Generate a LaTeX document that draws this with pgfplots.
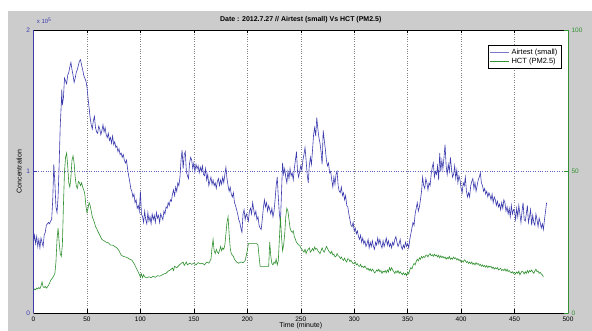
\documentclass[border=0pt]{standalone}
\usepackage{fontspec}
\setmainfont{Liberation Sans}
\usepackage{pgfplots}
\pgfplotsset{compat=1.18}
\definecolor{figgray}{RGB}{204,204,204}
\definecolor{mblue}{RGB}{60,60,175}
\definecolor{mgreen}{RGB}{50,145,50}
\begin{document}
\begin{tikzpicture}[x=1pt,y=1pt]
\useasboundingbox (0,0) rectangle (592,331);
\fill[white] (0,0) rectangle (592,331);
\fill[figgray] (8,0) rectangle (592,320);
\fill[white] (33.5,18) rectangle (568,301);
\begin{axis}[
  at={(33.5pt,18pt)}, anchor=south west, scale only axis,
  width=534.5pt, height=283pt,
  xmin=0, xmax=500, ymin=0, ymax=2,
  clip mode=individual,
  xtick={0,50,...,500}, ytick={0,1,2},
  tick align=inside, major tick length=3.5pt,
  axis x line*=box, axis y line*=left,
  x axis line style={black, line width=0.5pt},
  y axis line style={mblue, line width=0.5pt},
  x tick style={black, line width=0.4pt},
  y tick style={mblue, line width=0.4pt},
  y tick label style={text=mblue},
  tick label style={font=\fontsize{6.5}{7}\selectfont},
  /pgf/number format/assume math mode=true,
  xmajorgrids, ymajorgrids,
  x grid style={black!50, dotted, line width=0.4pt},
  y grid style={mblue!80, dotted, line width=0.4pt},
  xlabel={Time (minute)}, ylabel={Concentration},
  label style={font=\fontsize{7}{8}\selectfont},
  xlabel style={at={(axis description cs:0.5,-0.046)}, anchor=center},
  ylabel style={at={(axis description cs:-0.027,0.5)}, anchor=center},
  every axis title shift=0pt,
  title={Date : 2012.7.27 // Airtest (small) Vs HCT (PM2.5)},
  title style={at={(axis description cs:0.5,1.037)}, anchor=center, font=\fontsize{7}{8}\selectfont\bfseries},
]
\addplot[mblue, line width=0.6pt] coordinates {
(0,0.50)(1,0.55)(2,0.49)(3,0.54)(4,0.47)(5,0.52)(6,0.46)(7,0.53)(8,0.50)(9,0.47)
(10,0.55)(11,0.57)(12,0.62)(13,0.63)(14,0.64)(15,0.63)(16,0.65)(17,0.66)(18,0.80)(19,1.05)
(20,0.92)(21,0.75)(22,0.71)(23,0.82)(24,1.05)(25,1.32)(26,1.48)(26.5,1.58)(27,1.47)(28,1.52)(29,1.66)
(30,1.64)(31,1.62)(32,1.68)(33,1.70)(34,1.74)(35,1.77)(36,1.72)(37,1.68)(38,1.63)(39,1.66)
(40,1.70)(41,1.72)(42,1.75)(43,1.78)(44,1.79)(45,1.75)(46,1.72)(47,1.68)(48,1.66)(49,1.64)
(50,1.60)(51,1.52)(52,1.45)(53,1.38)(54,1.33)(55,1.30)(56,1.36)(57,1.39)(58,1.31)(59,1.28)
(60,1.27)(61,1.32)(62,1.30)(63,1.26)(64,1.29)(65,1.33)(66,1.28)(67,1.31)(68,1.26)(69,1.24)
(70,1.27)(71,1.22)(72,1.24)(73,1.20)(74,1.25)(75,1.19)(76,1.21)(77,1.17)(78,1.18)(79,1.14)
(80,1.16)(81,1.12)(82,1.13)(83,1.10)(84,1.12)(85,1.08)(86,1.06)(87,1.08)(88,1.02)(89,0.97)
(90,0.93)(91,0.88)(92,0.86)(93,0.82)(94,0.84)(95,0.78)(96,0.80)(97,0.74)(98,0.76)(99,0.72)
(100,0.86)(101,0.70)(102,0.68)(103,0.64)(104,0.72)(105,0.66)(106,0.63)(107,0.71)(108,0.65)(109,0.68)
(110,0.63)(111,0.70)(112,0.66)(113,0.69)(114,0.64)(115,0.71)(116,0.67)(117,0.69)(118,0.64)(119,0.70)
(120,0.68)(121,0.66)(122,0.72)(123,0.70)(124,0.75)(125,0.74)(126,0.78)(127,0.76)(128,0.80)(129,0.79)
(130,0.84)(131,0.87)(132,0.83)(133,0.89)(134,0.86)(135,0.92)(136,0.90)(137,0.96)(138,1.08)(139,1.15)
(140,1.02)(141,1.12)(142,1.14)(143,1.00)(144,0.97)(145,0.95)(146,1.06)(147,1.10)(148,1.08)(149,1.02)
(150,1.06)(151,1.00)(152,1.05)(153,1.02)(154,1.04)(155,0.99)(156,1.03)(157,1.00)(158,1.04)(159,0.98)
(160,0.97)(161,1.02)(162,0.94)(163,0.98)(164,0.90)(165,0.93)(166,0.96)(167,0.91)(168,0.94)(169,0.90)
(170,0.92)(171,0.88)(172,0.93)(173,0.95)(174,0.90)(175,0.94)(176,0.91)(177,0.96)(178,0.92)(179,0.98)
(180,1.03)(181,0.95)(182,0.90)(183,0.86)(184,0.89)(185,0.84)(186,0.82)(187,0.85)(188,0.78)(189,0.76)
(190,0.73)(191,0.70)(192,0.66)(193,0.64)(194,0.60)(195,0.57)(196,0.70)(197,0.73)(198,0.66)(199,0.70)
(200,0.68)(201,0.65)(202,0.72)(203,0.74)(204,0.70)(205,0.78)(206,0.73)(207,0.69)(208,0.72)(209,0.66)
(210,0.68)(211,0.62)(212,0.60)(213,0.59)(214,0.66)(215,0.74)(216,0.80)(217,0.75)(218,0.78)(219,0.72)
(220,0.76)(221,0.73)(222,0.70)(223,0.74)(224,0.68)(225,0.72)(226,0.80)(227,0.90)(228,0.96)(229,0.82)
(230,0.70)(231,0.64)(232,0.85)(233,1.06)(234,0.98)(235,1.02)(236,0.96)(237,0.92)(238,1.00)(239,0.95)
(240,1.02)(241,0.97)(242,0.99)(243,0.94)(244,1.02)(245,1.08)(246,1.14)(247,1.00)(248,0.96)(249,1.00)
(250,1.04)(251,1.01)(252,1.08)(253,1.12)(254,1.17)(255,1.08)(256,0.98)(257,0.92)(258,1.04)(259,1.10)
(260,1.05)(261,1.15)(262,1.26)(263,1.31)(264,1.25)(265,1.38)(266,1.30)(267,1.24)(268,1.20)(269,1.14)
(270,1.05)(271,1.29)(272,1.22)(273,1.16)(274,1.08)(275,1.04)(276,1.06)(277,0.99)(278,1.00)(279,0.94)
(280,0.89)(281,0.96)(282,0.91)(283,0.98)(284,1.00)(285,0.90)(286,0.86)(287,0.85)(288,0.89)(289,0.83)
(290,0.85)(291,0.80)(292,0.83)(293,0.76)(294,0.75)(295,0.70)(296,0.66)(297,0.62)(298,0.61)(299,0.64)
(300,0.58)(301,0.60)(302,0.56)(303,0.58)(304,0.54)(305,0.52)(306,0.55)(307,0.50)(308,0.53)(309,0.49)
(310,0.51)(311,0.47)(312,0.49)(313,0.52)(314,0.46)(315,0.50)(316,0.47)(317,0.51)(318,0.47)(319,0.45)
(320,0.50)(321,0.48)(322,0.53)(323,0.49)(324,0.52)(325,0.48)(326,0.46)(327,0.51)(328,0.47)(329,0.50)
(330,0.53)(331,0.48)(332,0.51)(333,0.47)(334,0.49)(335,0.46)(336,0.50)(337,0.48)(338,0.52)(339,0.54)
(340,0.50)(341,0.47)(342,0.49)(343,0.52)(344,0.47)(345,0.45)(346,0.48)(347,0.46)(348,0.50)(349,0.47)
(350,0.49)(351,0.46)(352,0.52)(353,0.56)(354,0.60)(355,0.64)(356,0.62)(357,0.70)(358,0.74)(359,0.78)
(360,0.72)(361,0.75)(362,0.80)(363,0.86)(364,0.96)(365,0.90)(366,0.88)(367,0.95)(368,0.92)(369,0.87)
(370,0.92)(371,0.90)(372,0.98)(373,1.03)(374,1.06)(375,0.96)(376,1.00)(377,0.98)(378,1.04)(379,0.94)
(380,1.13)(381,1.00)(382,1.08)(383,1.02)(384,1.10)(385,1.19)(386,1.04)(387,0.98)(388,1.05)(389,1.00)
(390,1.10)(391,1.02)(392,0.96)(393,0.98)(394,1.04)(395,0.95)(396,1.01)(397,0.92)(398,0.97)(399,0.94)
(400,0.88)(401,0.85)(402,0.92)(403,0.90)(404,0.96)(405,0.86)(406,0.82)(407,0.85)(408,0.82)(409,0.90)
(410,0.93)(411,0.95)(412,0.88)(413,0.92)(414,0.86)(415,0.90)(416,0.94)(417,0.96)(418,0.99)(419,0.92)
(420,0.90)(421,0.86)(422,0.88)(423,0.84)(424,0.86)(425,0.82)(426,0.85)(427,0.83)(428,0.80)(429,0.84)
(430,0.78)(431,0.82)(432,0.80)(433,0.76)(434,0.79)(435,0.75)(436,0.77)(437,0.73)(438,0.78)(439,0.74)
(440,0.80)(441,0.78)(442,0.72)(443,0.75)(444,0.70)(445,0.74)(446,0.68)(447,0.76)(448,0.70)(449,0.73)
(450,0.72)(451,0.66)(452,0.74)(453,0.68)(454,0.76)(455,0.70)(456,0.64)(457,0.72)(458,0.78)(459,0.66)
(460,0.65)(461,0.70)(462,0.76)(463,0.64)(464,0.68)(465,0.73)(466,0.62)(467,0.69)(468,0.64)(469,0.62)
(470,0.70)(471,0.66)(472,0.61)(473,0.67)(474,0.64)(475,0.60)(476,0.63)(477,0.59)(478,0.66)(479,0.72)
(480,0.78)
};
\node[anchor=west, text=mblue, font=\fontsize{6}{7}\selectfont, inner sep=0pt] at (axis description cs:0.006,1.032) {x 10\textsuperscript{5}};
\end{axis}
\begin{axis}[
  at={(33.5pt,18pt)}, anchor=south west, scale only axis,
  width=534.5pt, height=283pt,
  xmin=0, xmax=500, ymin=0, ymax=100,
  ytick={0,50,100},
  tick align=inside, major tick length=3.5pt,
  axis x line=none, axis y line*=right,
  y axis line style={mgreen, line width=0.5pt},
  y tick style={mgreen, line width=0.4pt},
  y tick label style={text=mgreen},
  tick label style={font=\fontsize{6.5}{7}\selectfont},
  /pgf/number format/assume math mode=true,
  legend cell align=left,
  legend style={at={(rel axis cs:0.987,0.947)}, anchor=north east,
    font=\fontsize{7.5}{8.5}\selectfont, draw=black, line width=0.4pt,
    fill=white, inner sep=1.5pt, row sep=-1.5pt},
  legend image code/.code={\draw[#1] (0pt,0pt) -- (19pt,0pt);},
]
\addlegendimage{mblue!70, line width=0.6pt}
\addlegendentry{Airtest (small)}
\addplot[mgreen, line width=0.6pt] coordinates {
(0,8.0)(1,8.5)(2,8.2)(3,8.8)(4,8.5)(5,9.0)(6,8.6)(7,9.5)(8,11.0)(9,9.2)
(10,9.0)(11,9.4)(12,8.8)(13,9.2)(14,9.8)(15,10.5)(16,11.5)(17,12.0)(18,12.5)(19,13.2)
(20,14.0)(21,18.0)(22,26.0)(23,30.0)(24,25.0)(25,21.0)(26,20.0)(27,24.0)(28,38.0)(29,50.0)
(30,55.0)(31,56.5)(32,52.0)(33,46.0)(34,44.5)(35,48.0)(36,54.0)(37,55.5)(38,53.0)(39,48.0)
(40,45.0)(41,44.0)(42,46.5)(43,46.0)(44,45.0)(45,46.0)(46,44.5)(47,43.5)(48,42.0)(49,38.0)
(50,35.5)(51,37.0)(52,39.0)(53,38.0)(54,36.0)(55,34.0)(56,33.0)(57,32.0)(58,30.5)(59,30.0)
(60,29.0)(62,27.5)(64,26.0)(66,25.5)(68,25.0)(70,24.8)(72,24.0)(74,24.0)(76,23.5)(78,23.0)
(80,22.0)(82,20.5)(84,20.0)(86,19.8)(88,19.5)(90,19.0)(92,18.7)(94,17.5)(96,16.0)(98,14.5)
(100,12.7)(101,13.8)(102,12.5)(103,13.5)(104,12.8)(106,12.4)(108,12.8)(110,12.5)(112,13.0)(114,12.6)
(116,13.2)(118,13.0)(120,13.4)(122,13.8)(124,14.0)(126,14.8)(128,15.2)(130,15.9)(131,15.0)(132,16.5)
(134,16.0)(136,16.8)(138,17.5)(140,18.0)(141,16.8)(142,17.4)(143,18.0)(144,17.0)(146,17.6)(148,17.2)
(150,17.6)(152,17.0)(154,17.8)(156,17.4)(158,17.6)(160,17.0)(162,18.0)(164,17.6)(166,19.0)(167,23.0)
(168,26.0)(169,22.0)(170,21.0)(171,22.5)(172,21.5)(173,21.0)(174,22.0)(175,23.5)(176,22.0)(177,23.0)
(178,22.5)(179,24.0)(180,28.0)(181,32.0)(182,34.0)(183,28.0)(184,23.0)(185,21.0)(186,20.5)(187,20.0)
(188,19.0)(189,18.5)(190,18.0)(192,17.6)(194,18.0)(196,17.8)(198,18.5)(200,22.0)(201,24.5)(205,24.5)
(209,24.5)(210,24.0)(211,20.0)(212,16.5)(220,16.5)(221,25.0)(222,20.0)(223,17.5)(224,17.0)(225,18.0)
(226,17.5)(227,19.0)(228,17.0)(229,18.5)(230,26.0)(231,34.0)(232,27.0)(233,22.0)(234,24.0)(235,28.0)
(236,34.0)(237,37.0)(238,36.0)(239,33.0)(240,30.0)(241,29.0)(242,28.5)(243,29.0)(244,27.0)(245,26.0)
(246,25.0)(247,24.5)(248,24.0)(249,24.0)(250,23.0)(251,22.5)(252,22.0)(253,21.5)(254,22.5)(255,21.0)
(256,22.0)(257,22.5)(258,23.0)(259,21.5)(260,22.0)(261,22.8)(262,22.0)(263,23.3)(264,22.5)(265,22.8)
(266,22.0)(267,21.5)(268,21.0)(269,22.0)(270,23.0)(271,22.0)(272,21.5)(273,22.5)(274,23.5)(275,22.8)
(276,22.0)(277,21.5)(278,21.0)(279,21.8)(280,20.5)(281,20.8)(282,19.8)(283,20.0)(284,21.0)(285,20.2)
(286,20.0)(287,19.2)(288,19.8)(289,19.0)(290,18.6)(291,19.4)(292,18.5)(293,18.0)(294,19.2)(295,19.0)
(296,18.2)(297,18.6)(298,18.0)(299,17.4)(300,17.5)(301,18.0)(302,17.0)(303,17.4)(304,16.6)(305,16.5)
(306,17.2)(307,16.2)(308,16.5)(309,16.0)(310,16.6)(311,16.0)(312,15.4)(313,15.8)(314,15.0)(315,15.6)
(316,14.8)(317,15.5)(318,15.0)(319,14.2)(320,14.5)(321,15.2)(322,14.8)(323,15.5)(324,14.6)(325,15.0)
(326,14.0)(327,14.8)(328,14.4)(329,15.0)(330,14.2)(331,15.2)(332,14.5)(333,16.0)(334,15.0)(335,16.0)
(336,15.2)(337,14.6)(338,14.0)(339,14.8)(340,14.2)(341,15.0)(342,14.0)(343,14.6)(344,14.0)(345,13.6)
(346,14.2)(347,13.5)(348,14.0)(349,13.2)(350,14.5)(351,13.8)(352,15.2)(353,16.0)(354,15.6)(355,16.8)
(356,17.5)(357,17.0)(358,18.2)(359,19.0)(360,18.4)(361,19.5)(362,19.0)(363,20.0)(364,19.4)(365,20.0)
(366,19.6)(367,20.4)(368,20.5)(369,19.8)(370,20.6)(371,21.0)(372,20.2)(373,20.6)(374,20.0)(375,20.8)
(376,20.2)(377,20.5)(378,19.8)(379,20.4)(380,19.5)(381,20.2)(382,19.6)(383,20.0)(384,19.4)(385,19.8)
(386,19.0)(387,19.6)(388,19.2)(389,20.0)(390,19.0)(391,19.4)(392,19.0)(393,19.8)(394,19.2)(395,19.5)
(396,18.8)(397,19.2)(398,18.5)(399,18.9)(400,18.0)(401,18.4)(402,18.0)(403,18.8)(404,18.5)(405,17.8)
(406,18.2)(407,17.5)(408,18.0)(409,17.4)(410,18.0)(411,17.2)(412,17.6)(413,17.0)(414,17.8)(415,17.2)
(416,17.5)(417,16.8)(418,17.2)(419,16.5)(420,17.0)(421,16.4)(422,16.8)(423,16.2)(424,16.8)(425,16.0)
(426,16.6)(427,16.2)(428,16.5)(429,15.8)(430,16.2)(431,15.5)(432,16.0)(433,15.6)(434,16.0)(435,15.2)
(436,15.5)(437,15.8)(438,15.0)(439,15.4)(440,15.0)(441,15.6)(442,14.8)(443,15.5)(444,14.6)(445,15.0)
(446,14.5)(447,14.2)(448,14.6)(449,14.0)(450,14.4)(451,13.8)(452,14.5)(453,14.0)(454,14.8)(455,13.5)
(456,14.2)(457,14.8)(458,14.5)(459,13.8)(460,14.6)(461,14.0)(462,15.0)(463,14.2)(464,15.0)(465,14.6)
(466,15.2)(467,14.5)(468,14.0)(469,14.8)(470,15.5)(471,14.6)(472,14.8)(473,14.0)(474,14.4)(475,13.8)
(476,13.5)(477,12.7)
};
\addlegendentry{HCT (PM2.5)}
\end{axis}
\end{tikzpicture}
\end{document}
